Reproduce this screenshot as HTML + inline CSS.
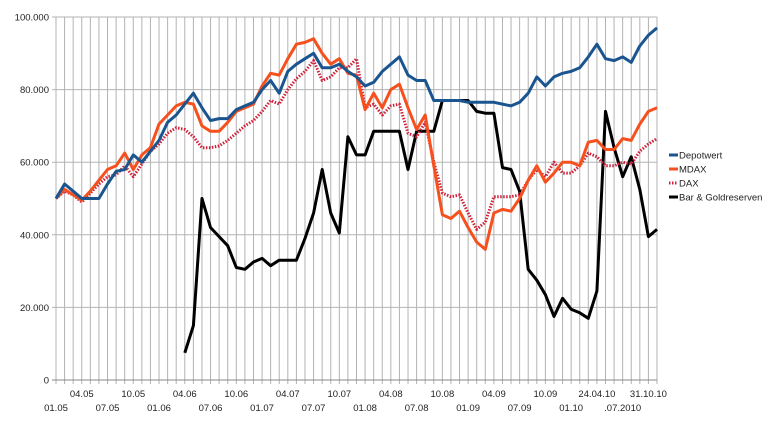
<!DOCTYPE html>
<html><head><meta charset="utf-8">
<style>
body{margin:0;background:#fff;width:770px;height:416px;overflow:hidden;font-family:"Liberation Sans",sans-serif;}
svg text{font-family:"Liberation Sans",sans-serif;font-size:9.5px;fill:#222;}
</style></head>
<body>
<svg id="chart" width="770" height="416" xmlns="http://www.w3.org/2000/svg"></svg>
<script>
const xLabels=["01.05","04.05","07.05","10.05","01.06","04.06","07.06","10.06","01.07","04.07","07.07","10.07","01.08","04.08","07.08","10.08","01.09","04.09","07.09","10.09","01.10","24.04.10",".07.2010","31.10.10"];
const yTicks=[0,20000,40000,60000,80000,100000];
const yTickLabels=["0","20.000","40.000","60.000","80.000","100.000"];
const depotwert=[50,54,52,50,50,50,54,57.5,58,62,60,63,66,71,73,76,79,75,71.5,72,72,74.5,75.5,76.5,80,82.5,79,85,87,88.5,90,86,86,87,85,83.5,81,82,85,87,89,84,82.5,82.5,77,77,77,77,76.5,76.5,76.5,76.5,76,75.5,76.5,79,83.5,81,83.5,84.5,85,86,89,92.5,88.5,88,89,87.5,92,95,97];
const mdax=[50,52.5,51,49.5,52,55,58,59,62.5,58,62,64,70.5,73,75.5,76.5,76,70,68.5,68.5,71,74,75,76,81,84.5,84,88.5,92.5,93,94,90,87,88.5,84.5,84,74.5,79,75,80,81.5,75,69,73,59,45.5,44.5,46.5,42,38,36,46,47,46.5,50,55,59,54.5,57,60,60,59,65.5,66,63.5,63.5,66.5,66,70.5,74,75];
const dax=[50,52,51,49,51.5,54,56,56.5,59,56,59.5,63,65,68,69.5,69,67,64,64,64.5,66,68,70,71.5,74,77,76,80,83,85,88,82.5,83.5,86,86,88.5,75,76,73,75.5,76,68,67,71,60,51.5,50.5,51,46,41.5,43.5,50.5,50.5,50.5,51,55,58,56,60,57,57,59,62.5,61.5,59,59,60,59.5,63,65,66.5];
const gold=[null,null,null,null,null,null,null,null,null,null,null,null,null,null,null,7.5,15,50,42,39.5,37,31,30.5,32.5,33.5,31.5,33,33,33,39,46,58,46,40.5,67,62,62,68.5,68.5,68.5,68.5,58,68.5,68.5,68.5,77,77,77,77,74,73.5,73.5,58.5,58,52,30.5,27.5,23.5,17.5,22.5,19.5,18.5,17,24.5,74,64,56,61.5,52.5,39.5,41.5];
const seriesNames=["Depotwert","MDAX","DAX","Bar & Goldreserven"];

const svg=document.getElementById('chart');
const NS="http://www.w3.org/2000/svg";
const X0=56,X1=657,Y0=380,Y1=17,N=depotwert.length;
const xs=i=>X0+i*(X1-X0)/(N-1);
const ys=v=>Y0-(v/100000)*(Y0-Y1);
function mk(t,a){const e=document.createElementNS(NS,t);for(const k in a)e.setAttribute(k,a[k]);svg.appendChild(e);return e;}

for(let i=0;i<N;i++){
  const g=mk('line',{x1:xs(i),x2:xs(i),y1:Y1,y2:Y0+4,stroke:'#b3b3b3','stroke-width':1});
  
  
}
yTicks.forEach((v,k)=>{
  const g=mk('line',{x1:X0-4,x2:X1,y1:ys(v),y2:ys(v),stroke:k==0?'#888':'#b3b3b3','stroke-width':1});
  
  
  const t=mk('text',{x:49,y:ys(v)+3.5,'text-anchor':'end'});
  t.textContent=yTickLabels[k];
  
  
});
xLabels.forEach((l,k)=>{
  const i=k*3;
  const t=mk('text',{x:xs(i),y:k%2==0?411:397,'text-anchor':'middle'});
  t.textContent=l;
  
  
});
function path(arr,val){let d='',pen=false;arr.forEach((v,i)=>{if(v==null){pen=false;return;}d+=(pen?'L':'M')+xs(i).toFixed(1)+','+ys(v*1000).toFixed(1);pen=true;});return d;}
const styles=[{c:'#1a5590',dash:null},{c:'#f5501e',dash:null},{c:'#d0203a',dash:'1.5,1.5'},{c:'#000',dash:null}];
const data=[depotwert,mdax,dax,gold];
const order=[3,2,1,0];
order.forEach(s=>{
  const a={d:path(data[s]),fill:'none',stroke:styles[s].c,'stroke-width':3,'stroke-linejoin':'round'};
  if(styles[s].dash)a['stroke-dasharray']=styles[s].dash;
  const p=mk('path',a);
  
  
});
seriesNames.forEach((n,s)=>{
  const y=155+s*14;
  const a={x1:669,x2:678,y1:y,y2:y,stroke:styles[s].c,'stroke-width':3};
  if(styles[s].dash)a['stroke-dasharray']=styles[s].dash;
  const l=mk('line',a);
  
  
  const t=mk('text',{x:679,y:y+3.5});
  t.textContent=n;
  
  
});
</script>
</body></html>
